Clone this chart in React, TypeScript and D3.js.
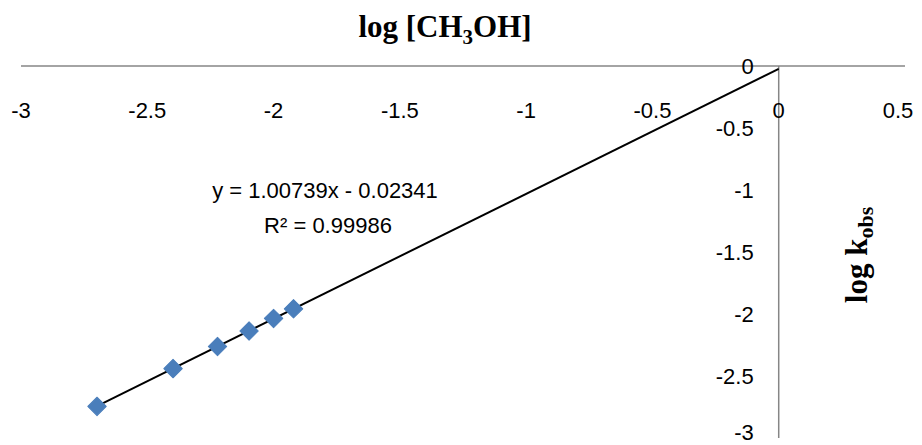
import { useEffect, useRef } from 'react';
import * as d3 from 'd3';

// log [CH3OH] and log kobs values
const logMeOH = [-2.699, -2.398, -2.222, -2.097, -2.0, -1.921];
const logKobs = [-2.745, -2.44, -2.262, -2.137, -2.036, -1.958];

// fitted trendline (Excel linear fit)
const slope = 1.00739;
const intercept = -0.02341;
const r2 = 0.99986;

const xTicks = [-3, -2.5, -2, -1.5, -1, -0.5, 0, 0.5];
const yTicks = [0, -0.5, -1, -1.5, -2, -2.5, -3];

const width = 922;
const height = 445;

const App = () => {
  const svgRef = useRef<SVGSVGElement | null>(null);

  useEffect(() => {
    const svg = d3.select(svgRef.current);
    svg.selectAll('*').remove();

    const x = d3.scaleLinear().domain([-3, 0.5]).range([21, 905]);
    const y = d3.scaleLinear().domain([-3, 0]).range([438, 66]);

    const tickFont = "'Liberation Sans', Arial, sans-serif";
    const serif = "'Liberation Serif', 'Times New Roman', serif";
    const axisColor = '#868686';

    // x axis line (at y = 0)
    svg.append('line')
      .attr('x1', x(-3)).attr('x2', x(0.5))
      .attr('y1', y(0)).attr('y2', y(0))
      .attr('stroke', axisColor).attr('stroke-width', 1.5);

    // y axis line (at x = 0)
    svg.append('line')
      .attr('x1', x(0)).attr('x2', x(0))
      .attr('y1', y(0)).attr('y2', y(-3))
      .attr('stroke', axisColor).attr('stroke-width', 1.5);

    // x tick labels sit low, below the axis
    svg.append('g').selectAll('text')
      .data(xTicks)
      .enter()
      .append('text')
      .attr('x', d => Math.min(x(d), 898))
      .attr('y', 118)
      .attr('text-anchor', 'middle')
      .style('font-family', tickFont)
      .style('font-size', '22px')
      .text(d => String(d));

    // y tick labels, to the left of the axis
    svg.append('g').selectAll('text')
      .data(yTicks)
      .enter()
      .append('text')
      .attr('x', x(0) - 25)
      .attr('y', d => Math.min(y(d), 432))
      .attr('dy', '0.36em')
      .attr('text-anchor', 'end')
      .style('font-family', tickFont)
      .style('font-size', '22px')
      .text(d => String(d));

    // trendline from first point forward to x = 0
    const x0 = d3.min(logMeOH) as number;
    const fit = [x0, 0].map(v => [v, slope * v + intercept] as [number, number]);
    svg.append('path')
      .datum(fit)
      .attr('fill', 'none')
      .attr('stroke', '#000')
      .attr('stroke-width', 2)
      .attr('d', d3.line<[number, number]>().x(d => x(d[0])).y(d => y(d[1])));

    // diamond markers
    const diamond = d3.symbol().type(d3.symbolSquare).size(170);
    svg.append('g').selectAll('path')
      .data(logMeOH.map((v, i) => [v, logKobs[i]]))
      .enter()
      .append('path')
      .attr('d', diamond)
      .attr('transform', d => `translate(${x(d[0])},${y(d[1])}) rotate(45)`)
      .attr('fill', '#4a7ebb')
      .attr('stroke', '#4a7ebb')
      .attr('stroke-width', 1)
      .attr('stroke-linejoin', 'round');

    // trendline label
    const eq = svg.append('text')
      .attr('text-anchor', 'middle')
      .style('font-family', tickFont)
      .style('font-size', '22px');
    eq.append('tspan').attr('x', 325).attr('y', 198)
      .text(`y = ${slope}x - ${Math.abs(intercept)}`);
    eq.append('tspan').attr('x', 328).attr('y', 233)
      .text(`R² = ${r2}`);

    // axis titles
    const title = svg.append('text')
      .attr('x', 445)
      .attr('y', 37)
      .attr('text-anchor', 'middle')
      .style('font-family', serif)
      .style('font-weight', 'bold')
      .style('font-size', '31px');
    title.append('tspan').text('log [CH');
    title.append('tspan').attr('dy', 7).style('font-size', '21px').text('3');
    title.append('tspan').attr('dy', -7).text('OH]');

    const yTitle = svg.append('text')
      .attr('transform', 'translate(867,255) rotate(-90)')
      .attr('text-anchor', 'middle')
      .style('font-family', serif)
      .style('font-weight', 'bold')
      .style('font-size', '31px');
    yTitle.append('tspan').text('log k');
    yTitle.append('tspan').attr('dy', 6).style('font-size', '22px').text('obs');
  }, []);

  return (
    <svg
      ref={svgRef}
      width={width}
      height={height}
      style={{ position: 'absolute', left: 0, top: 0, background: '#fff' }}
    />
  );
};

export default App;
